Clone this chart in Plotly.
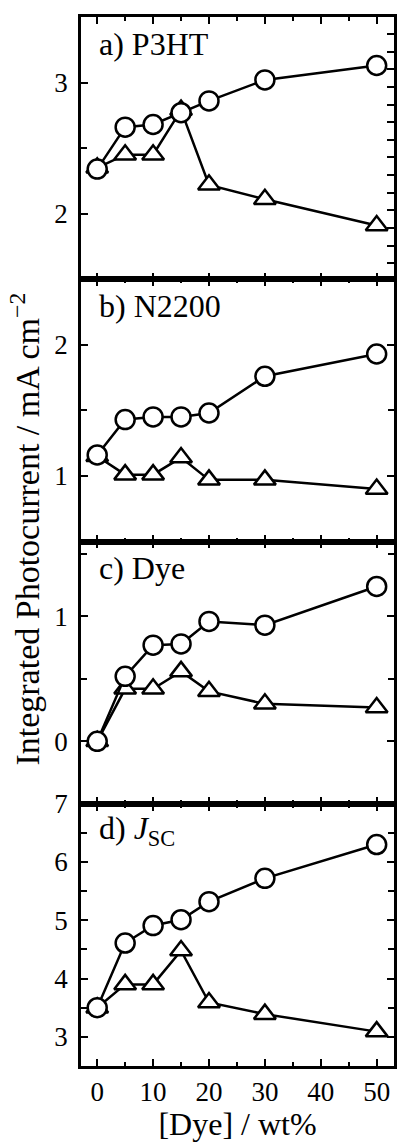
import plotly.graph_objects as go
from plotly.subplots import make_subplots

dye = [0, 5, 10, 15, 20, 30, 50]

p3ht_circle = [2.34, 2.66, 2.68, 2.77, 2.86, 3.02, 3.13]
p3ht_triangle = [2.35, 2.45, 2.45, 2.79, 2.22, 2.11, 1.91]

n2200_circle = [1.16, 1.43, 1.45, 1.45, 1.48, 1.76, 1.93]
n2200_triangle = [1.15, 1.01, 1.01, 1.14, 0.97, 0.97, 0.90]

dyepanel_circle = [0.0, 0.52, 0.77, 0.78, 0.96, 0.93, 1.24]
dyepanel_triangle = [0.0, 0.42, 0.42, 0.56, 0.40, 0.30, 0.27]

jsc_circle = [3.5, 4.61, 4.91, 5.01, 5.32, 5.72, 6.30]
jsc_triangle = [3.5, 3.90, 3.90, 4.48, 3.59, 3.39, 3.09]

panel_labels = ["a) P3HT", "b) N2200", "c) Dye", "d) <i>J</i><sub>SC</sub>"]
y_ranges = [[1.5, 3.5], [0.5, 2.5], [-0.5, 1.6], [2.5, 7]]

FONT = "Liberation Serif, Times New Roman, Times, serif"

fig = make_subplots(rows=4, cols=1, shared_xaxes=True, vertical_spacing=0)

series = [(p3ht_circle, p3ht_triangle), (n2200_circle, n2200_triangle),
          (dyepanel_circle, dyepanel_triangle), (jsc_circle, jsc_triangle)]

for i, (circ, tri) in enumerate(series):
    r = i + 1
    fig.add_trace(go.Scatter(x=dye, y=tri, mode="lines+markers",
                             line=dict(color="black", width=2.5),
                             marker=dict(symbol="triangle-up", size=19, color="white",
                                         line=dict(color="black", width=2.5)),
                             showlegend=False, cliponaxis=False), row=r, col=1)
    fig.add_trace(go.Scatter(x=dye, y=circ, mode="lines+markers",
                             line=dict(color="black", width=2.5),
                             marker=dict(symbol="circle", size=19, color="white",
                                         line=dict(color="black", width=2.5)),
                             showlegend=False, cliponaxis=False), row=r, col=1)

for i in range(4):
    r = i + 1
    fig.update_yaxes(row=r, col=1, range=y_ranges[i], dtick=1, tick0=0,
                     ticks="inside", ticklen=7, tickwidth=2, tickcolor="black",
                     showline=True, linewidth=2.5, linecolor="black",
                     mirror=("ticks" if i > 0 else False), showgrid=False, zeroline=False,
                     minor=dict(dtick=0.5, tick0=0, ticks="inside", ticklen=6, tickwidth=2,
                                tickcolor="black", showgrid=False),
                     tickfont=dict(family=FONT, size=27, color="black"),
                     ticklabelstandoff=5)
    fig.update_xaxes(row=r, col=1, range=[-2.9, 53.1], dtick=10, tick0=0,
                     ticks="inside", ticklen=7, tickwidth=2, tickcolor="black",
                     showline=True, linewidth=2.5, linecolor="black",
                     mirror="ticks", showgrid=False, zeroline=False,
                     minor=dict(dtick=5, tick0=0, ticks="inside", ticklen=4, tickwidth=2,
                                tickcolor="black", showgrid=False),
                     tickfont=dict(family=FONT, size=27, color="black"),
                     showticklabels=(r == 4))

# right-hand axis of panel a with its own tick spacing
fig.update_layout(yaxis5=dict(overlaying="y", side="right", anchor="x",
                              range=y_ranges[0], tick0=3.3707, dtick=0.1345,
                              ticks="inside", ticklen=7, tickwidth=2, tickcolor="black",
                              showline=True, linewidth=2.5, linecolor="black",
                              showticklabels=False, showgrid=False, zeroline=False))
fig.add_trace(go.Scatter(x=[None], y=[None], yaxis="y5", xaxis="x",
                         showlegend=False, hoverinfo="skip"))

fig.update_xaxes(row=4, col=1,
                 title=dict(text="[Dye] / wt%", font=dict(family=FONT, size=32, color="black"),
                            standoff=0))

for i, lab in enumerate(panel_labels):
    r = i + 1
    yref = "y domain" if r == 1 else f"y{r} domain"
    xref = "x domain" if r == 1 else f"x{r} domain"
    fig.add_annotation(text=lab, xref=xref, yref=yref, x=0.05, y=(1 - 27 / 264),
                       xanchor="left", yanchor="middle", showarrow=False,
                       font=dict(family=FONT, size=32, color="black"))

fig.add_annotation(text="Integrated Photocurrent / mA cm<sup>\u22122</sup>",
                   xref="paper", yref="paper", x=-0.18, y=0.512, textangle=-90,
                   xanchor="center", yanchor="middle", showarrow=False,
                   font=dict(family=FONT, size=34, color="black"))

fig.update_layout(width=399, height=1142,
                  margin=dict(l=81, r=2, t=8, b=76, pad=0),
                  paper_bgcolor="white", plot_bgcolor="white",
                  showlegend=False)

fig.write_html("out.html")
